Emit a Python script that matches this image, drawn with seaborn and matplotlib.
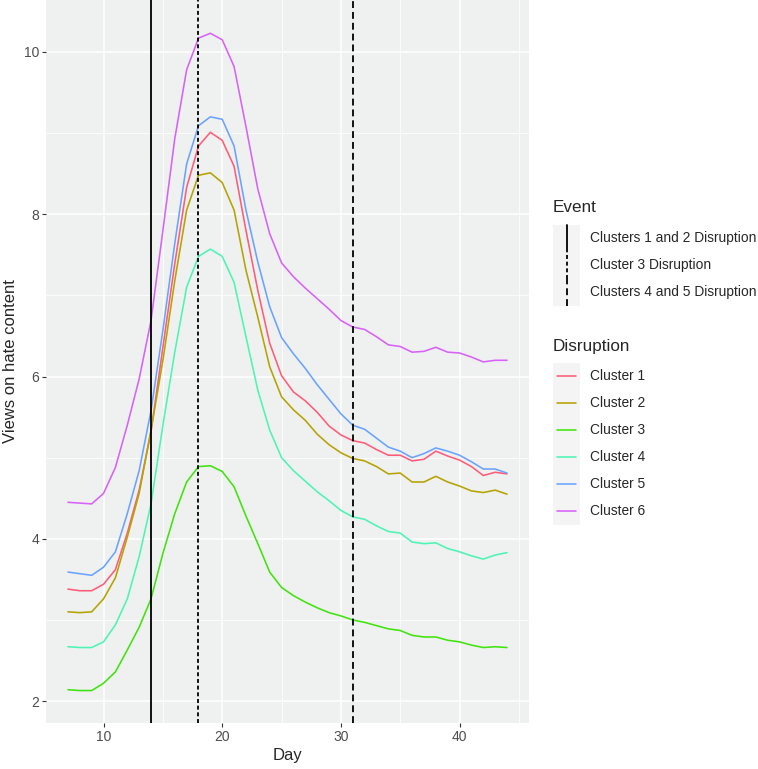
import numpy as np
import pandas as pd
import matplotlib
matplotlib.use("Agg")
import matplotlib.pyplot as plt
import seaborn as sns
from matplotlib.lines import Line2D
from matplotlib.patches import Rectangle
from matplotlib.legend_handler import HandlerBase
from matplotlib.ticker import MultipleLocator

# data
days = list(range(7, 45))
cluster_names = ['Cluster 1', 'Cluster 2', 'Cluster 3', 'Cluster 4', 'Cluster 5', 'Cluster 6']

cluster1 = [3.38, 3.36, 3.36, 3.44, 3.62, 4.07, 4.60, 5.32, 6.36, 7.39, 8.33, 8.84, 9.01, 8.91, 8.59, 7.80, 7.06, 6.41, 6.01,
            5.81, 5.70, 5.56, 5.39, 5.28, 5.21, 5.18, 5.10, 5.03, 5.03, 4.96, 4.98, 5.08, 5.02, 4.97, 4.89, 4.78, 4.82, 4.80]
cluster2 = [3.10, 3.09, 3.10, 3.26, 3.52, 4.02, 4.56, 5.34, 6.20, 7.18, 8.05, 8.48, 8.51, 8.39, 8.05, 7.31, 6.73, 6.12, 5.75,
            5.59, 5.46, 5.29, 5.16, 5.06, 4.99, 4.96, 4.89, 4.80, 4.81, 4.70, 4.70, 4.77, 4.70, 4.65, 4.59, 4.57, 4.60, 4.55]
cluster3 = [2.14, 2.13, 2.13, 2.22, 2.36, 2.63, 2.91, 3.26, 3.82, 4.31, 4.70, 4.89, 4.90, 4.83, 4.64, 4.28, 3.94, 3.59, 3.40,
            3.30, 3.22, 3.15, 3.09, 3.05, 3.00, 2.97, 2.93, 2.89, 2.87, 2.81, 2.79, 2.79, 2.75, 2.73, 2.69, 2.66, 2.67, 2.66]
cluster4 = [2.67, 2.66, 2.66, 2.73, 2.94, 3.26, 3.78, 4.43, 5.40, 6.30, 7.10, 7.48, 7.57, 7.48, 7.16, 6.49, 5.83, 5.34, 5.00,
            4.84, 4.71, 4.58, 4.47, 4.35, 4.27, 4.24, 4.16, 4.09, 4.07, 3.96, 3.94, 3.95, 3.88, 3.84, 3.79, 3.75, 3.80, 3.83]
cluster5 = [3.59, 3.57, 3.55, 3.65, 3.84, 4.31, 4.84, 5.58, 6.57, 7.64, 8.62, 9.09, 9.20, 9.17, 8.84, 8.05, 7.41, 6.86, 6.48,
            6.28, 6.10, 5.90, 5.72, 5.54, 5.40, 5.35, 5.24, 5.13, 5.08, 5.00, 5.05, 5.12, 5.08, 5.03, 4.95, 4.86, 4.86, 4.81]
cluster6 = [4.45, 4.44, 4.43, 4.56, 4.88, 5.40, 5.97, 6.69, 7.80, 8.93, 9.78, 10.17, 10.23, 10.15, 9.82, 9.08, 8.31, 7.76, 7.40,
            7.23, 7.09, 6.96, 6.83, 6.69, 6.61, 6.58, 6.49, 6.39, 6.37, 6.30, 6.31, 6.36, 6.30, 6.29, 6.24, 6.18, 6.20, 6.20]

event_days = [14, 18, 31]
event_labels = ['Clusters 1 and 2 Disruption', 'Cluster 3 Disruption', 'Clusters 4 and 5 Disruption']
event_styles = ['-', (0, (2.2, 1.5)), (0, (3.8, 2.2))]

colors = ['#FF5C78', '#B5A300', '#3FE40C', '#4CF5B4', '#6AA3FF', '#D862F7']

# long format for seaborn
series = [cluster1, cluster2, cluster3, cluster4, cluster5, cluster6]
df = pd.concat([pd.DataFrame({'Day': days, 'Views': s, 'Disruption': n})
                for n, s in zip(cluster_names, series)], ignore_index=True)

sns.set_theme(style='darkgrid')
plt.rcParams['font.family'] = ['Liberation Sans', 'DejaVu Sans']

fig = plt.figure(figsize=(7.58, 7.69), dpi=100)
ax = fig.add_axes([46 / 758, 1 - 723 / 769, (529 - 46) / 758, 723 / 769])
ax.set_facecolor('#EFF0F0')

sns.lineplot(data=df, x='Day', y='Views', hue='Disruption', palette=colors,
             linewidth=1.15, legend=False, ax=ax)

for d, ls in zip(event_days, event_styles):
    ax.axvline(d, color='black', linestyle=ls, linewidth=1.3)

ax.set_xlim(5.15, 45.85)
ax.set_ylim(1.73, 10.64)
ax.xaxis.set_major_locator(MultipleLocator(10))
ax.xaxis.set_minor_locator(MultipleLocator(5))
ax.yaxis.set_major_locator(MultipleLocator(2))
ax.yaxis.set_minor_locator(MultipleLocator(1))
ax.grid(which='major', color='white', linewidth=1.1)
ax.grid(which='minor', color='white', linewidth=0.55)
ax.set_axisbelow(True)
for sp in ax.spines.values():
    sp.set_visible(False)
ax.tick_params(which='major', length=3, width=0.8, color='#333333', labelcolor='#4D4D4D',
               labelsize=10, pad=2, left=True, bottom=True)
ax.tick_params(which='minor', length=0)
ax.set_xlabel('Day', fontsize=12, labelpad=3)
ax.set_ylabel('Views on hate content', fontsize=12, labelpad=4)


class KeyHandler(HandlerBase):
    def __init__(self, vertical):
        super().__init__()
        self.vertical = vertical

    def create_artists(self, legend, orig_handle, xdescent, ydescent, width, height, fontsize, trans):
        x0, y0 = -xdescent, -ydescent
        bg = Rectangle((x0, y0), width, height, facecolor='#F4F4F4', edgecolor='none', transform=trans)
        if self.vertical:
            ln = Line2D([x0 + width / 2] * 2, [y0, y0 + height])
        else:
            ln = Line2D([x0 + width * 0.13, x0 + width * 0.87], [y0 + height / 2] * 2)
        ln.update_from(orig_handle)
        ln.set_transform(trans)
        return [bg, ln]


fs = 9.95
row_pt = 27 / 100 * 72
# matplotlib's handle box height is fs*hh - 0.35*fs*(hh - 0.7)
hh = (row_pt / fs - 0.245) / 0.65
key_w = row_pt / fs

ev_handles = [Line2D([], [], color='black', linestyle=ls, linewidth=1.3) for ls in event_styles]
leg1 = fig.legend(ev_handles, event_labels, loc='upper left', bbox_to_anchor=(553 / 758, 1 - 224.5 / 769),
                  frameon=False, fontsize=fs, borderpad=0, borderaxespad=0, labelspacing=0,
                  handleheight=hh, handlelength=key_w, handletextpad=0.72,
                  handler_map={h: KeyHandler(True) for h in ev_handles})

cl_handles = [Line2D([], [], color=c, linewidth=1.15) for c in colors]
leg2 = fig.legend(cl_handles, cluster_names, loc='upper left', bbox_to_anchor=(553 / 758, 1 - 362.5 / 769),
                  frameon=False, fontsize=fs, borderpad=0, borderaxespad=0, labelspacing=0,
                  handleheight=hh, handlelength=key_w, handletextpad=0.72,
                  handler_map={h: KeyHandler(False) for h in cl_handles})

fig.text(553 / 758, 1 - 207 / 769, 'Event', fontsize=12.3, va='center', ha='left')
fig.text(553 / 758, 1 - 347 / 769, 'Disruption', fontsize=12.3, va='center', ha='left')

fig.savefig('out.png', dpi=100)
